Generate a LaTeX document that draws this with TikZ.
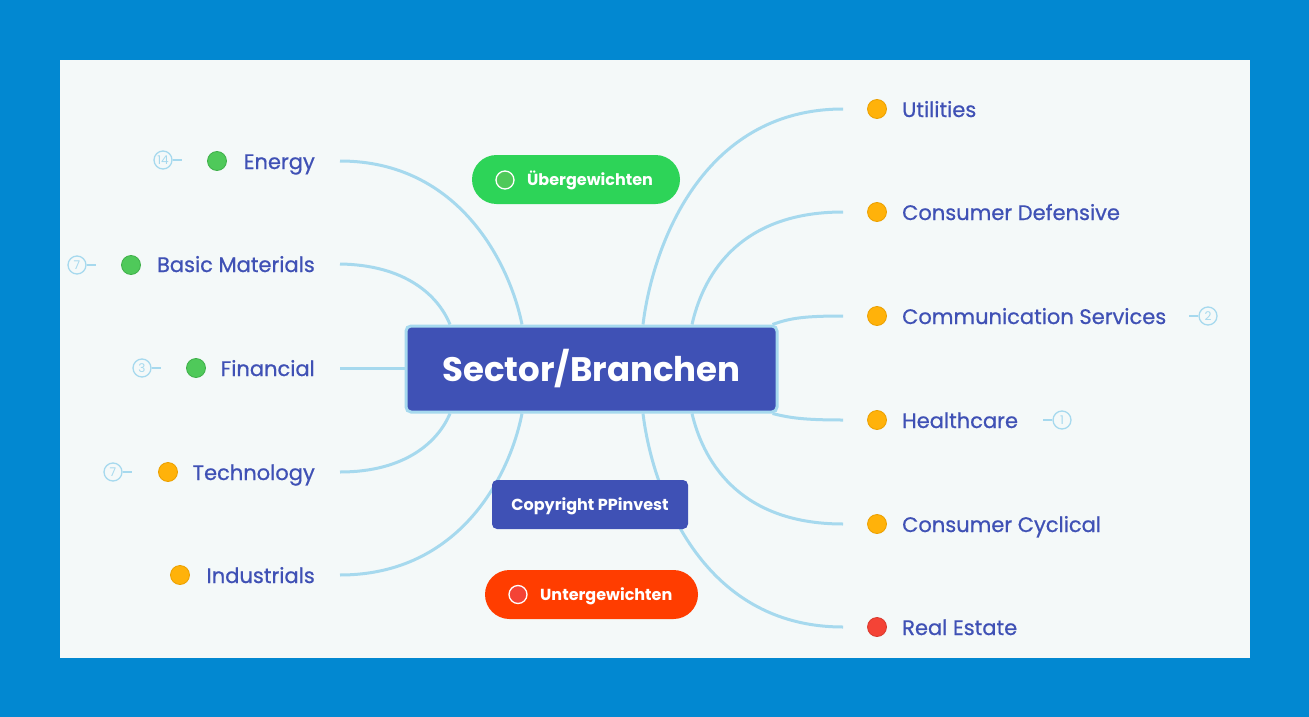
\documentclass[tikz,border=0pt]{standalone}
\usepackage{fontspec}
\setmainfont{Poppins}
\newfontfamily\lblfont[FakeBold=0.7]{Poppins}
\usetikzlibrary{backgrounds}
\definecolor{bgblue}{HTML}{0288D1}
\definecolor{panel}{HTML}{F4F9F9}
\definecolor{ln}{HTML}{A6D9EE}
\definecolor{ind}{HTML}{3F51B5}
\definecolor{gdot}{HTML}{4FC95A}
\definecolor{gdotb}{HTML}{3FB04A}
\definecolor{odot}{HTML}{FFB20A}
\definecolor{odotb}{HTML}{EBA000}
\definecolor{rdot}{HTML}{F44336}
\definecolor{rdotb}{HTML}{D93A2E}
\definecolor{pgreen}{HTML}{2DD458}
\definecolor{pred}{HTML}{FF3D00}
\begin{document}
\begin{tikzpicture}[x=1pt,y=-1pt,
  lbl/.style={font=\lblfont\fontsize{21}{25}\selectfont, text=ind, inner sep=0pt},
  br/.style={draw=ln, line width=3pt},
  dotg/.style={circle, fill=gdot, draw=gdotb, line width=0.8pt, minimum size=19pt, inner sep=0pt},
  doto/.style={circle, fill=odot, draw=odotb, line width=0.8pt, minimum size=19pt, inner sep=0pt},
  dotr/.style={circle, fill=rdot, draw=rdotb, line width=0.8pt, minimum size=19pt, inner sep=0pt},
  badge/.style={circle, draw=ln, line width=1.3pt, minimum size=18pt, inner sep=0pt, text=ln, font=\fontsize{12}{14}\selectfont},
  tick/.style={draw=ln, line width=1.6pt},
  pill/.style={minimum height=49pt, inner sep=0pt, rounded corners=24.5pt},
  pilldot/.style={circle, draw=white, line width=1.3pt, minimum size=18pt, inner sep=0pt},
  pilltxt/.style={font=\bfseries\fontsize{16}{19}\selectfont, text=white, inner sep=0pt, text height=11.4pt, text depth=0pt}
]
\begin{scope}[on background layer]
  \fill[bgblue] (0,0) rectangle (1309,717);
  \fill[panel] (60,60) rectangle (1250,658);
\end{scope}

% central node
\node[draw=ln, line width=3pt, fill=ind, rounded corners=5pt, minimum width=371pt, minimum height=86pt,
      text=white, font=\bfseries\fontsize{34}{40}\selectfont] (c) at (591.5,369) {Sector/Branchen};

% left labels
\node[lbl, anchor=base east] (energy) at (315,169) {Energy};
\node[lbl, anchor=base east] (basic) at (315,272) {Basic Materials};
\node[lbl, anchor=base east] (fin) at (315,376) {Financial};
\node[lbl, anchor=base east] (tech) at (315,480) {Technology};
\node[lbl, anchor=base east] (ind) at (315,583) {Industrials};

% right labels
\node[lbl, anchor=base west] (util) at (902,117) {Utilities};
\node[lbl, anchor=base west] (cdef) at (902,220) {Consumer Defensive};
\node[lbl, anchor=base west] (comm) at (902,324) {Communication Services};
\node[lbl, anchor=base west] (health) at (902,428) {Healthcare};
\node[lbl, anchor=base west] (ccyc) at (902,532) {Consumer Cyclical};
\node[lbl, anchor=base west] (real) at (902,635) {Real Estate};

% dots
\node[dotg] (d1) at (217,161) {};
\node[dotg] (d2) at (131,265) {};
\node[dotg] (d3) at (196,368) {};
\node[doto] (d4) at (168,472) {};
\node[doto] (d5) at (180,575) {};
\node[doto] (d6) at (877,109) {};
\node[doto] (d7) at (877,212) {};
\node[doto] (d8) at (877,316) {};
\node[doto] (d9) at (877,420) {};
\node[doto] (d10) at (877,524) {};
\node[dotr] (d11) at (877,627) {};

% badges
\node[badge] (b1) at (163,160) {14};
\draw[tick] (b1.east) -- ++(9,0);
\node[badge] (b2) at (77,265) {7};
\draw[tick] (b2.east) -- ++(9,0);
\node[badge] (b3) at (142,368) {3};
\draw[tick] (b3.east) -- ++(9,0);
\node[badge] (b4) at (113,472) {7};
\draw[tick] (b4.east) -- ++(9,0);
\node[badge] (b5) at (1208,316) {2};
\draw[tick] (b5.west) -- ++(-9,0);
\node[badge] (b6) at (1062,420) {1};
\draw[tick] (b6.west) -- ++(-9,0);

% pills
\node[pill, fill=pgreen, minimum width=208pt] (over) at (576,179.5) {};
\node[pilldot, fill=gdot] (overdot) at (505,180) {};
\node[pilltxt, anchor=west] (overtxt) at (527,180) {Übergewichten};

\node[fill=ind, rounded corners=5pt, minimum width=196pt, minimum height=49pt, inner sep=0pt,
      text height=11.4pt, text depth=0pt,
      text=white, font=\bfseries\fontsize{16}{19}\selectfont] (copy) at (590,504.5) {Copyright PPinvest};

\node[pill, fill=pred, minimum width=213pt] (under) at (591.5,594.5) {};
\node[pilldot, fill=rdot] (underdot) at (518,594.5) {};
\node[pilltxt, anchor=west] (undertxt) at (540,594.5) {Untergewichten};

% connectors
\begin{scope}[on background layer]
  \coordinate (cn1) at ([xshift=-69.5pt]c.north);
  \coordinate (cn2) at ([xshift=-141.5pt]c.north);
  \coordinate (cn3) at ([xshift=51.5pt]c.north);
  \coordinate (cn4) at ([xshift=100.5pt]c.north);
  \coordinate (cs1) at ([xshift=-69.5pt]c.south);
  \coordinate (cs2) at ([xshift=-141.5pt]c.south);
  \coordinate (cs3) at ([xshift=51.5pt]c.south);
  \coordinate (cs4) at ([xshift=100.5pt]c.south);
  \draw[br] ([shift={(25,-8)}]energy.base east) .. controls (460,161) and (510,265) .. (cn1);
  \draw[br] ([shift={(25,-8)}]basic.base east) .. controls (405,265) and (438,295) .. (cn2);
  \draw[br] ([shift={(25,-8)}]fin.base east) -- (c.west |- 0,368);
  \draw[br] ([shift={(25,-8)}]tech.base east) .. controls (405,472) and (438,442) .. (cs2);
  \draw[br] ([shift={(25,-8)}]ind.base east) .. controls (460,575) and (510,475) .. (cs1);
  \draw[br] ([shift={(-59,-8)}]util.base west) .. controls (700,109) and (652,250) .. (cn3);
  \draw[br] ([shift={(-59,-8)}]cdef.base west) .. controls (735,212) and (702,280) .. (cn4);
  \draw[br] ([shift={(-59,-8)}]comm.base west) .. controls (805,316) and (790,318) .. ([shift={(-6,0)}]c.north east);
  \draw[br] ([shift={(-59,-8)}]health.base west) .. controls (805,420) and (790,418) .. ([shift={(-6,0)}]c.south east);
  \draw[br] ([shift={(-59,-8)}]ccyc.base west) .. controls (735,524) and (702,456) .. (cs4);
  \draw[br] ([shift={(-59,-8)}]real.base west) .. controls (700,627) and (652,488) .. (cs3);
\end{scope}
\end{tikzpicture}
\end{document}
